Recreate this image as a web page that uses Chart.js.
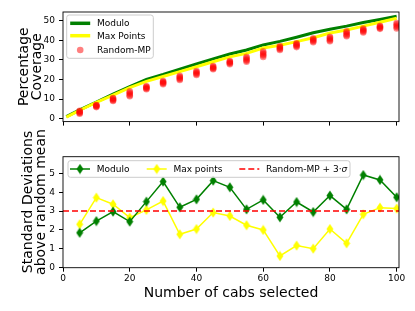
<!DOCTYPE html>
<html>
<head>
	<script type="text/javascript" src="https://cdn.jsdelivr.net/npm/chart.js@4.4.0/dist/chart.umd.min.js"></script>
	<style>
		body { margin: 0; background: #fff; }
		.panel { position: absolute; left: 0; width: 415px; }
	</style>
</head>
<body>
	<div class="panel" style="top: 0px; height: 140px">
		<canvas id="chartCoverage" width="415" height="140"></canvas>
	</div>
	<!-- bottom canvas starts higher so the long y title is not cut -->
	<div class="panel" style="top: 120px; height: 191px">
		<canvas id="chartSigma" width="415" height="191"></canvas>
	</div>

	<script type="text/javascript">
		// top panel : coverage (%) vs number of cabs
		var cabs = [1, 5, 10, 15, 20, 25, 30, 35, 40, 45, 50, 55, 60, 65, 70, 75, 80, 85, 90, 95, 100];
		var moduloCoverage = [1.0, 4.5, 8.5, 12.5, 16.3, 20.0, 22.5, 25.3, 27.9, 30.5, 33.0, 35.0, 37.6, 39.4, 41.5, 43.8, 45.6, 47.2, 49.0, 50.6, 52.3];
		var maxPointsCoverage = [0.8, 4.3, 8.3, 12.0, 15.8, 19.0, 21.5, 24.0, 26.5, 29.0, 31.5, 33.3, 36.0, 37.4, 39.3, 41.3, 43.7, 45.2, 47.2, 49.2, 51.2];

		// Random-MP : several random trials per cab count (red dots)
		var randomCabs = [5, 10, 15, 20, 25, 30, 35, 40, 45, 50, 55, 60, 65, 70, 75, 80, 85, 90, 95, 100];
		var randomTrial1 = [2.5, 5.9, 9.0, 11.4, 15.0, 17.6, 19.7, 22.3, 25.2, 27.8, 29.0, 31.5, 35.0, 36.5, 39.0, 39.5, 42.0, 44.0, 45.8, 46.0];
		var randomTrial2 = [2.9, 6.2, 9.4, 12.0, 15.4, 18.0, 20.2, 22.8, 25.6, 28.2, 29.6, 32.2, 35.5, 37.0, 39.5, 40.0, 42.6, 44.5, 46.2, 46.7];
		var randomTrial3 = [3.3, 6.5, 9.8, 12.7, 15.8, 18.4, 20.8, 23.3, 26.0, 28.6, 30.2, 32.9, 36.0, 37.5, 40.0, 40.6, 43.2, 45.0, 46.6, 47.4];
		var randomTrial4 = [3.7, 6.8, 10.2, 13.3, 16.2, 18.8, 21.3, 23.8, 26.4, 29.0, 30.9, 33.6, 36.5, 38.0, 40.5, 41.2, 43.9, 45.5, 47.0, 48.1];
		var randomTrial5 = [4.0, 7.0, 10.5, 13.9, 16.5, 19.2, 21.8, 24.3, 26.8, 29.4, 31.5, 34.3, 37.0, 38.4, 41.0, 41.7, 44.5, 46.0, 47.3, 48.8];

		// bottom panel : standard deviations above random mean
		var sigmaCabs = [5, 10, 15, 20, 25, 30, 35, 40, 45, 50, 55, 60, 65, 70, 75, 80, 85, 90, 95, 100];
		var moduloSigma = [1.85, 2.47, 2.97, 2.44, 3.50, 4.56, 3.20, 3.62, 4.61, 4.26, 3.09, 3.59, 2.67, 3.48, 2.95, 3.82, 3.09, 4.91, 4.65, 3.73];
		var maxPointsSigma = [2.30, 3.71, 3.36, 2.65, 3.06, 3.53, 1.77, 2.05, 2.92, 2.74, 2.25, 2.00, 0.62, 1.17, 1.01, 2.05, 1.29, 2.83, 3.18, 3.13];
		var randomThreshold = 3;

		var seriesNames = ['Modulo', 'Max Points', 'Random-MP'];
		var sigmaNames = ['Modulo', 'Max points', 'Random-MP + 3\u00b7'];
		var xTicks = [0, 20, 40, 60, 80, 100];

		var GREEN = '#008000', YELLOW = '#ffff00', RED = '#ff0000';
		var FONT = 'DejaVu Sans';
		Chart.defaults.font.family = FONT;
		Chart.defaults.color = '#000';

		function toPoints(xs, ys) {
			var pts = [];
			for (var i = 0; i < xs.length; i++) pts.push({ x: xs[i], y: ys[i] });
			return pts;
		}

		// matplotlib like thin diamond marker
		function thinDiamond(color) {
			var c = document.createElement('canvas');
			c.width = 8; c.height = 11;
			var g = c.getContext('2d');
			g.beginPath();
			g.moveTo(4, 0.5); g.lineTo(7.5, 5.5); g.lineTo(4, 10.5); g.lineTo(0.5, 5.5);
			g.closePath();
			g.fillStyle = color; g.fill();
			return c;
		}
		var greenDiamond = thinDiamond(GREEN);
		var yellowDiamond = thinDiamond(YELLOW);

		function frameAndLabels(opts) {
			return {
				id: 'frame',
				afterDraw: function (chart) {
					var ctx = chart.ctx, a = chart.chartArea;
					ctx.save();
					ctx.strokeStyle = '#000';
					ctx.lineWidth = 0.9;
					ctx.strokeRect(a.left, a.top, a.right - a.left, a.bottom - a.top);

					// y title (two lines)
					ctx.fillStyle = '#000';
					ctx.font = '14px "' + FONT + '"';
					ctx.textAlign = 'center';
					ctx.textBaseline = 'alphabetic';
					for (var i = 0; i < opts.yTitle.length; i++) {
						ctx.save();
						ctx.translate(opts.yBase[i], opts.yCenter);
						ctx.rotate(-Math.PI / 2);
						ctx.fillText(opts.yTitle[i], 0, 0);
						ctx.restore();
					}
					if (opts.xTitle) {
						ctx.fillText(opts.xTitle, (a.left + a.right) / 2, opts.xBase);
					}

					// legend
					var L = opts.legend;
					var bx = a.left + L.x, by = a.top + L.y;
					ctx.fillStyle = 'rgba(255,255,255,0.8)';
					ctx.strokeStyle = '#cccccc';
					ctx.lineWidth = 1;
					ctx.beginPath();
					ctx.roundRect(bx, by, L.w, L.h, 2.5);
					ctx.fill(); ctx.stroke();
					ctx.font = '9px "' + FONT + '"';
					ctx.textAlign = 'left';
					ctx.textBaseline = 'middle';
					L.items.forEach(function (it) {
						var x0 = bx + it.dx, x1 = x0 + 20, y = by + it.dy;
						ctx.save();
						if (it.kind === 'dot') {
							ctx.fillStyle = 'rgba(255,0,0,0.5)';
							ctx.beginPath(); ctx.arc(x0 + 10, y, 3.3, 0, Math.PI * 2); ctx.fill();
						} else {
							ctx.strokeStyle = it.color;
							ctx.lineWidth = it.width;
							if (it.dash) ctx.setLineDash(it.dash);
							ctx.beginPath(); ctx.moveTo(x0, y); ctx.lineTo(x1, y); ctx.stroke();
							if (it.marker) ctx.drawImage(it.marker, x0 + 10 - 4, y - 5.5);
						}
						ctx.restore();
						ctx.fillStyle = '#000';
						ctx.fillText(it.label, x1 + 6.7, y + 0.5);
						if (it.italic) {
							var w = ctx.measureText(it.label).width;
							ctx.font = 'italic 9px "' + FONT + '"';
							ctx.fillText(it.italic, x1 + 6.7 + w, y + 0.5);
							ctx.font = '9px "' + FONT + '"';
						}
					});
					ctx.restore();
				}
			};
		}

		function xScale(showLabels, height) {
			return {
				type: 'linear', min: 0, max: 100.7,
				afterFit: function (s) { s.height = height; },
				afterBuildTicks: function (s) { s.ticks = xTicks.map(function (v) { return { value: v }; }); },
				grid: { drawOnChartArea: false, drawTicks: true, tickLength: 4, color: '#000' },
				border: { display: false },
				ticks: { color: showLabels ? '#000' : 'rgba(0,0,0,0)', font: { size: 9 }, padding: 2, maxRotation: 0, includeBounds: false }
			};
		}

		function yScale(min, max, step) {
			return {
				min: min, max: max,
				afterFit: function (s) { s.width = 63; },
				grid: { drawOnChartArea: false, drawTicks: true, tickLength: 4, color: '#000' },
				border: { display: false },
				ticks: { stepSize: step, font: { size: 9 }, padding: 4, includeBounds: false }
			};
		}

		var randomTrials = [randomTrial1, randomTrial2, randomTrial3, randomTrial4, randomTrial5];
		var coverageSets = [
			{ label: seriesNames[0], data: toPoints(cabs, moduloCoverage), showLine: true, borderColor: GREEN, borderWidth: 3, pointRadius: 0, order: 3 },
			{ label: seriesNames[1], data: toPoints(cabs, maxPointsCoverage), showLine: true, borderColor: YELLOW, borderWidth: 3, pointRadius: 0, order: 2 }
		];
		randomTrials.forEach(function (t) {
			coverageSets.push({ label: seriesNames[2], data: toPoints(randomCabs, t), showLine: false, pointRadius: 3.3, pointBorderWidth: 0, pointBackgroundColor: 'rgba(255,0,0,0.45)', order: 1 });
		});

		new Chart(document.getElementById('chartCoverage').getContext('2d'), {
			type: 'scatter',
			data: { datasets: coverageSets },
			options: {
				responsive: false, animation: false, devicePixelRatio: 1,
				layout: { padding: { left: 0, right: 16, top: 12, bottom: 0 } },
				plugins: { legend: { display: false }, tooltip: { enabled: false } },
				scales: { x: xScale(false, 18.4), y: yScale(-1.5, 54.4, 10) }
			},
			plugins: [frameAndLabels({
				yTitle: ['Percentage', 'Coverage'], yBase: [28, 40.5], yCenter: 66.7,
				legend: { x: 3.7, y: 3, w: 86.6, h: 43.3, items: [
					{ label: seriesNames[0], color: GREEN, width: 3.5, dx: 3.5, dy: 8.3 },
					{ label: seriesNames[1], color: YELLOW, width: 3.5, dx: 3.5, dy: 20.7 },
					{ label: seriesNames[2], kind: 'dot', dx: 3.5, dy: 35 }
				] }
			})]
		});

		new Chart(document.getElementById('chartSigma').getContext('2d'), {
			type: 'scatter',
			data: {
				datasets: [
					{ label: sigmaNames[0], data: toPoints(sigmaCabs, moduloSigma), showLine: true, borderColor: GREEN, backgroundColor: GREEN, borderWidth: 1.5, pointStyle: greenDiamond, pointRadius: 5, order: 1 },
					{ label: sigmaNames[1], data: toPoints(sigmaCabs, maxPointsSigma), showLine: true, borderColor: YELLOW, backgroundColor: YELLOW, borderWidth: 1.5, pointStyle: yellowDiamond, pointRadius: 5, order: 2 },
					{ label: sigmaNames[2], data: [{ x: 0, y: randomThreshold }, { x: 100.7, y: randomThreshold }], showLine: true, borderColor: RED, borderWidth: 1.5, borderDash: [6, 3], pointRadius: 0, order: 0 }
				]
			},
			options: {
				responsive: false, animation: false, devicePixelRatio: 1,
				layout: { padding: { left: 0, right: 16, top: 36.7, bottom: 0 } },
				plugins: { legend: { display: false }, tooltip: { enabled: false } },
				scales: { x: xScale(true, 43.3), y: yScale(0, 5.88, 1) }
			},
			plugins: [frameAndLabels({
				yTitle: ['Standard Deviations', 'above random mean'], yBase: [31.5, 44.5], yCenter: 82,
				xTitle: 'Number of cabs selected', xBase: 176.7,
				legend: { x: 5, y: 4, w: 282, h: 16.6, items: [
					{ label: sigmaNames[0], color: GREEN, width: 1.5, marker: greenDiamond, dx: 2, dy: 8.3 },
					{ label: sigmaNames[1], color: YELLOW, width: 1.5, marker: yellowDiamond, dx: 78.7, dy: 8.3 },
					{ label: sigmaNames[2], italic: '\u03c3', color: RED, width: 1.5, dash: [6, 3], dx: 171.3, dy: 8.3 }
				] }
			})]
		});
	</script>
</body>
</html>
